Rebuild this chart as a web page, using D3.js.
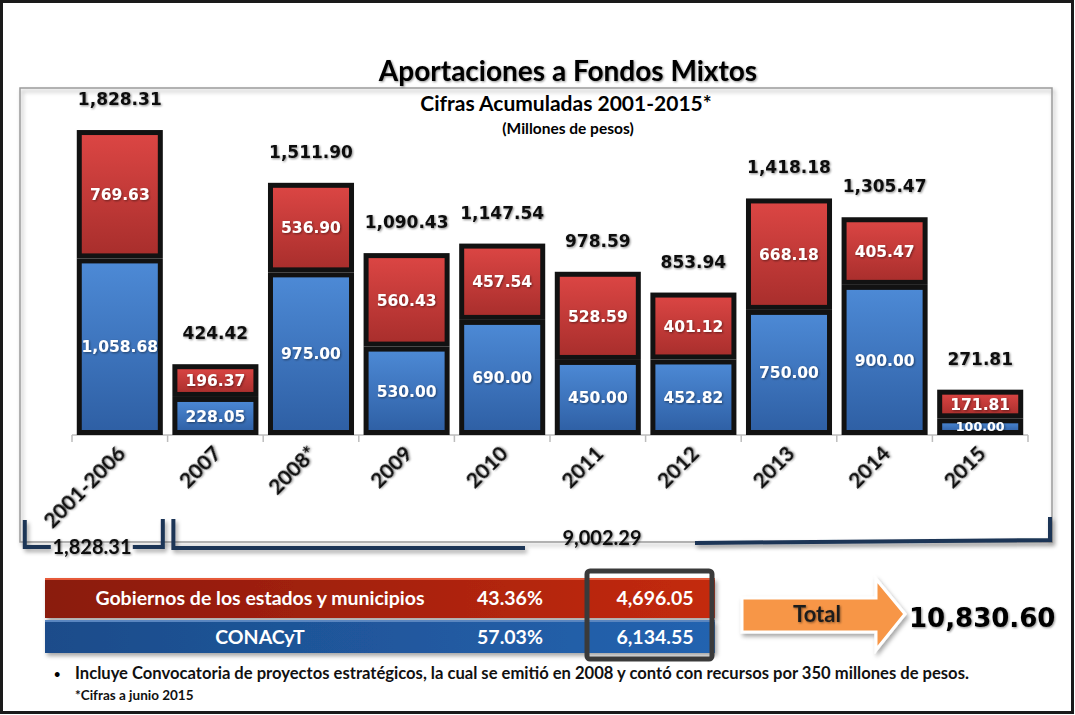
<!DOCTYPE html>
<html>
<head>
<meta charset="utf-8">
<script src="https://cdn.jsdelivr.net/npm/d3@7"></script>
<style>
  body { margin: 0; background: #fff; }
  svg text { font-family: Lato, "Open Sans", sans-serif; font-weight: bold; }
  .num { font-family: "DejaVu Sans", Verdana, sans-serif; }
</style>
</head>
<body>
<div id="chart"></div>
<script>
// Data
var categories = ["2001-2006", "2007", "2008*", "2009", "2010", "2011", "2012", "2013", "2014", "2015"];
var conacyt   = [1058.68, 228.05, 975.00, 530.00, 690.00, 450.00, 452.82, 750.00, 900.00, 100.00];
var gobiernos = [769.63, 196.37, 536.90, 560.43, 457.54, 528.59, 401.12, 668.18, 405.47, 171.81];
var totals    = [1828.31, 424.42, 1511.90, 1090.43, 1147.54, 978.59, 853.94, 1418.18, 1305.47, 271.81];

var periodTotals = [1828.31, 9002.29];
var summaryLabels = ["Gobiernos de los estados y municipios", "CONACyT"];
var summaryPct = ["43.36%", "57.03%"];
var summaryAmounts = [4696.05, 6134.55];
var grandTotal = 10830.60;

var fmt = d3.format(",.2f");

var W = 1075, H = 715;

var svg = d3.select("#chart")
    .append("svg")
    .attr("width", W)
    .attr("height", H);

var defs = svg.append("defs");

// gradients
function vGrad(id, top, bottom) {
  var g = defs.append("linearGradient").attr("id", id)
      .attr("x1", 0).attr("y1", 0).attr("x2", 0).attr("y2", 1);
  g.append("stop").attr("offset", "0%").attr("stop-color", top);
  g.append("stop").attr("offset", "100%").attr("stop-color", bottom);
}
function hGrad(id, left, right) {
  var g = defs.append("linearGradient").attr("id", id)
      .attr("x1", 0).attr("y1", 0).attr("x2", 1).attr("y2", 0);
  g.append("stop").attr("offset", "0%").attr("stop-color", left);
  g.append("stop").attr("offset", "100%").attr("stop-color", right);
}
vGrad("redBar", "#dc4644", "#a82e2c");
vGrad("blueBar", "#4d8ad6", "#2e5fa4");
hGrad("redRow", "#8a1a0c", "#c42a0c");
hGrad("blueRow", "#1c4c8a", "#2463b0");

// soft shadows for text and shapes
function shadow(id, dx, dy, sd, op) {
  var f = defs.append("filter").attr("id", id)
      .attr("x", "-20%").attr("y", "-20%").attr("width", "140%").attr("height", "160%");
  f.append("feDropShadow").attr("dx", dx).attr("dy", dy)
      .attr("stdDeviation", sd).attr("flood-color", "#000").attr("flood-opacity", op);
}
shadow("txtShadow", 1, 1, 0.8, 0.45);
shadow("boxShadow", 2, 3, 2, 0.35);

// outer slide border
svg.append("rect")
    .attr("x", 1.5).attr("y", 1.5)
    .attr("width", W - 4).attr("height", H - 4)
    .attr("fill", "#fff")
    .attr("stroke", "#1a1a1a")
    .attr("stroke-width", 3);

// chart frame
svg.append("rect")
    .attr("x", 20).attr("y", 88)
    .attr("width", 1032).attr("height", 454)
    .attr("fill", "none")
    .attr("stroke", "#9a9a9a")
    .attr("stroke-width", 1.5)
    .style("filter", "url(#boxShadow)");

// titles
svg.append("text")
    .attr("x", 568).attr("y", 81)
    .attr("text-anchor", "middle")
    .style("font-size", "28px")
    .style("filter", "url(#txtShadow)")
    .text("Aportaciones a Fondos Mixtos");
svg.append("text")
    .attr("x", 566).attr("y", 111)
    .attr("text-anchor", "middle")
    .style("font-size", "21px")
    .text("Cifras Acumuladas 2001-2015*");
svg.append("text")
    .attr("x", 568).attr("y", 134)
    .attr("text-anchor", "middle")
    .style("font-size", "15.5px")
    .text("(Millones de pesos)");

// scales
var x = d3.scaleBand()
    .domain(categories)
    .range([72, 1028])
    .paddingInner(0.1)
    .paddingOuter(0.05);

var y = d3.scaleLinear()
    .domain([0, 2000])
    .range([435, 101.4]);

var rows = categories.map(function(c, i) {
  return { cat: c, conacyt: conacyt[i], gobiernos: gobiernos[i], total: totals[i] };
});

var series = d3.stack().keys(["conacyt", "gobiernos"])(rows);
var fills = { conacyt: "url(#blueBar)", gobiernos: "url(#redBar)" };

// x axis line + ticks on band edges
var axis = svg.append("g").attr("class", "axis");
axis.append("line")
    .attr("x1", x.range()[0]).attr("x2", x.range()[1])
    .attr("y1", y(0)).attr("y2", y(0))
    .attr("stroke", "#bdbdbd").attr("stroke-width", 1.5);
var edges = categories.map(function(c) { return x(c) - x.step() * x.paddingInner() / 2; });
edges.push(x.range()[1]);
edges[0] = x.range()[0];
axis.selectAll(".tick")
    .data(edges)
    .enter().append("line")
    .attr("x1", function(d) { return d; }).attr("x2", function(d) { return d; })
    .attr("y1", y(0)).attr("y2", y(0) + 7)
    .attr("stroke", "#bdbdbd").attr("stroke-width", 1.5);

// bars
var bw = x.bandwidth();
var layer = svg.append("g").selectAll("g")
    .data(series)
    .enter().append("g");

layer.selectAll("rect")
    .data(function(s) { return s.map(function(d) { d.key = s.key; return d; }); })
    .enter().append("rect")
    .attr("x", function(d) { return x(d.data.cat) + 2.5; })
    .attr("y", function(d) { return y(d[1]) + 2.5; })
    .attr("width", bw - 5)
    .attr("height", function(d) { return Math.max(1, y(d[0]) - y(d[1]) - 5); })
    .attr("fill", function(d) { return fills[d.key]; })
    .attr("stroke", "#121212")
    .attr("stroke-width", 5);

// segment labels
function segSize(d) { return Math.min(15.5, (y(d[0]) - y(d[1])) * 0.76); }
layer.selectAll("text")
    .data(function(s) { return s; })
    .enter().append("text")
    .attr("class", "num")
    .attr("x", function(d) { return x(d.data.cat) + bw / 2; })
    .attr("y", function(d) { return (y(d[0]) + y(d[1])) / 2 + segSize(d) * 0.37; })
    .attr("text-anchor", "middle")
    .attr("fill", "#fff")
    .style("font-size", function(d) { return segSize(d) + "px"; })
    .style("filter", "url(#txtShadow)")
    .text(function(d) { return fmt(d[1] - d[0]); });

// totals above bars
svg.append("g").selectAll("text")
    .data(rows)
    .enter().append("text")
    .attr("class", "num")
    .attr("x", function(d) { return x(d.cat) + bw / 2; })
    .attr("y", function(d) { return y(d.total) - 25; })
    .attr("text-anchor", "middle")
    .attr("fill", "#111")
    .style("font-size", "17px")
    .style("filter", "url(#txtShadow)")
    .text(function(d) { return fmt(d.total); });

// rotated category labels
svg.append("g").selectAll("text")
    .data(categories)
    .enter().append("text")
    .attr("transform", function(d) {
      return "translate(" + (x(d) + bw / 2 + 7) + "," + 455 + ") rotate(-45)";
    })
    .attr("text-anchor", "end")
    .attr("fill", "#111")
    .style("font-size", "21px")
    .style("filter", "url(#txtShadow)")
    .text(function(d) { return d; });

// period brackets
var navy = "#1b3456";
var br = svg.append("g")
    .attr("fill", "none")
    .attr("stroke", navy)
    .attr("stroke-width", 4)
    .style("filter", "url(#boxShadow)");
var left0 = x(categories[0]) - 52, left1 = x(categories[0]) + bw;
br.append("path").attr("d", "M" + (left0) + ",520 V547 H" + (left0 + 26));
br.append("path").attr("d", "M" + (left1 - 30) + ",547 H" + left1 + " V519");
var r0 = x(categories[1]) + 1, r1 = 1050;
br.append("path").attr("d", "M" + r0 + ",519 V548 H525");
br.append("path").attr("d", "M695,543 L" + r1 + ",540 V517");

svg.append("text")
    .attr("x", 92).attr("y", 554)
    .attr("text-anchor", "middle")
    .attr("fill", "#111")
    .style("font-size", "20px")
    .style("filter", "url(#txtShadow)")
    .text(fmt(periodTotals[0]));
svg.append("text")
    .attr("x", 602).attr("y", 545)
    .attr("text-anchor", "middle")
    .attr("fill", "#111")
    .style("font-size", "20px")
    .style("filter", "url(#txtShadow)")
    .text(fmt(periodTotals[1]));

// summary table
var rowY = [578, 620], rowH = [40, 33], rowFill = ["url(#redRow)", "url(#blueRow)"];
var table = svg.append("g");
table.selectAll("rect.row")
    .data(summaryLabels)
    .enter().append("rect")
    .attr("class", "row")
    .attr("x", 45).attr("y", function(d, i) { return rowY[i]; })
    .attr("width", 670).attr("height", function(d, i) { return rowH[i]; })
    .attr("fill", function(d, i) { return rowFill[i]; })
    .style("filter", "url(#boxShadow)");
// highlight lines on row tops
table.selectAll("line.hl")
    .data(summaryLabels)
    .enter().append("line")
    .attr("x1", 45).attr("x2", 715)
    .attr("y1", function(d, i) { return rowY[i] + 1; })
    .attr("y2", function(d, i) { return rowY[i] + 1; })
    .attr("stroke", function(d, i) { return i ? "#5a86c0" : "#e65a3a"; })
    .attr("stroke-width", 2);

var colX = [260, 510, 655];
summaryLabels.forEach(function(lbl, i) {
  var vals = [lbl, summaryPct[i], fmt(summaryAmounts[i])];
  vals.forEach(function(v, j) {
    table.append("text")
        .attr("x", colX[j])
        .attr("y", rowY[i] + rowH[i] / 2 + 7)
        .attr("text-anchor", "middle")
        .attr("fill", "#fff")
        .style("font-size", "19.5px")
        .text(v);
  });
});
table.append("rect")
    .attr("x", 587).attr("y", 571)
    .attr("width", 125).attr("height", 88)
    .attr("rx", 3)
    .attr("fill", "none")
    .attr("stroke", "#3a3a3a")
    .attr("stroke-width", 5);

// total arrow
svg.append("path")
    .attr("d", "M742,598 H876 V579 L905,614 L876,650 V632 H742 Z")
    .attr("fill", "#f79646")
    .attr("stroke", "#fff")
    .attr("stroke-width", 3)
    .style("filter", "url(#boxShadow)");
svg.append("text")
    .attr("x", 817).attr("y", 622)
    .attr("text-anchor", "middle")
    .attr("fill", "#1e1e1e")
    .style("font-size", "22px")
    .style("filter", "url(#txtShadow)")
    .text("Total");
svg.append("text")
    .attr("class", "num")
    .attr("x", 909).attr("y", 627)
    .attr("fill", "#000")
    .style("font-size", "26px")
    .style("filter", "url(#txtShadow)")
    .text(fmt(grandTotal));

// footnotes
svg.append("text")
    .attr("x", 54).attr("y", 678)
    .style("font-size", "11px")
    .text("\u2022");
svg.append("text")
    .attr("x", 75).attr("y", 679)
    .attr("fill", "#111")
    .style("font-size", "16.6px")
    .text("Incluye Convocatoria de proyectos estrat\u00e9gicos, la cual se emiti\u00f3 en 2008  y cont\u00f3 con recursos por 350 millones de pesos.");
svg.append("text")
    .attr("x", 75).attr("y", 700)
    .attr("fill", "#111")
    .style("font-size", "13.5px")
    .text("*Cifras a junio 2015");
</script>
</body>
</html>
